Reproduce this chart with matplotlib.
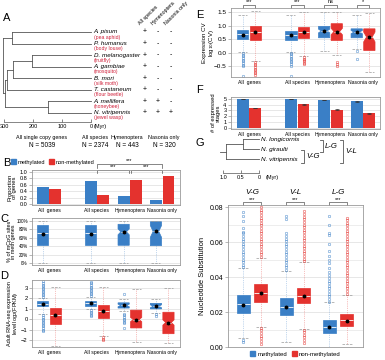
import matplotlib
matplotlib.use('Agg')
import matplotlib.pyplot as plt
from matplotlib.patches import Patch

plt.rcParams['font.family'] = ['Liberation Sans', 'DejaVu Sans']

BLUE = '#3a7fc6'
RED = '#e4322e'
GREY = '#9a9a9a'
TREE = '#555555'
W, H = 385, 360

# ---------------- data ----------------
groups = ['All  genes', 'All species', 'Hymenoptera', 'Nasonia only']
group_pos = [0, 1.45, 2.45, 3.43]

# panel A
species = ['A. pisum', 'P. humanus', 'D. melanogaster', 'A. gambiae',
           'B. mori', 'T. castaneum', 'A. mellifera', 'N. vitripennis']
common = ['(pea aphid)', '(body louse)', '(fruitfly)', '(mosquito)',
          '(silk moth)', '(flour beetle)', '(honeybee)', '(jewel wasp)']
subsets = ['All species', 'Hymenoptera', 'Nasonia only']
membership = [['+', '-', '-'], ['+', '-', '-'], ['+', '-', '-'], ['+', '-', '-'],
              ['+', '-', '-'], ['+', '-', '-'], ['+', '+', '-'], ['+', '+', '+']]
# node ages (Myr); leaves are row numbers
tree_ages = {'ROOT': 303, 'PH': 272, 'HOLO': 297, 'DABT': 290, 'DAB': 269, 'DA': 203, 'HYM': 148}
tree_children = {'ROOT': ['PH', 'HOLO'], 'PH': [0, 1], 'HOLO': ['DABT', 'HYM'],
                 'DABT': ['DAB', 5], 'DAB': ['DA', 4], 'DA': [2, 3], 'HYM': [6, 7]}
set_names = ['All single copy genes', 'All species', 'Hymenoptera', 'Nasonia only']
set_n = ['N = 5039', 'N = 2374', 'N = 443', 'N = 320']

# panel B: proportion of genes
b_meth = [0.55, 0.72, 0.27, 0.14]
b_non = [0.47, 0.30, 0.74, 0.87]

# box rows: [whislo, q1, median, q3, whishi, mean, notch half-width (0 = no notch)]
c_meth = [[0, 42, 71, 90, 100, 70, 0],
          [0, 42, 71, 90, 100, 70, 0],
          [0, 42, 74, 92, 100, 73, 7],
          [0, 41, 75, 98, 100, 76, 14]]

d_meth = [[0.45, 1.20, 1.45, 1.73, 2.00, 1.45, 0],
          [1.00, 1.27, 1.50, 1.75, 2.10, 1.50, 0],
          [0.80, 1.05, 1.30, 1.55, 1.90, 1.30, 0.12],
          [0.60, 0.97, 1.22, 1.50, 1.90, 1.22, 0.14]]
d_non = [[-2.60, -0.50, 0.40, 1.10, 3.10, 0.37, 0],
         [-1.60, 0.12, 0.78, 1.33, 3.10, 0.80, 0],
         [-2.20, -0.85, -0.05, 0.85, 2.90, -0.10, 0.2],
         [-2.30, -1.40, -0.33, 0.65, 2.95, -0.35, 0.25]]
d_meth_out = [[2.1, 2.25, 2.4, 2.55, 2.7, 2.85, 3.0, 3.15, 3.3, 3.45, 3.6,
               0.35, 0.2, 0.05, -0.1, -0.25, -0.4, -0.55, -0.7, -0.85, -1.0, -1.15],
              [2.2, 2.35, 2.5, 2.65, 2.8, 2.95, 3.1, 3.25, 3.4, 3.55, 0.85, 0.7, 0.55, 0.4, 0.3],
              [2.35, 0.5, 0.35, 0.2, 0.05, -0.1, -0.25, -0.4, -0.9],
              [0.45, 0.3]]
d_non_out = [[], [-1.75, -1.9, -2.0], [], []]

e_meth = [[0.03, 0.50, 0.68, 0.83, 1.40, 0.67, 0],
          [0.03, 0.47, 0.64, 0.80, 1.40, 0.64, 0],
          [0.05, 0.55, 0.80, 0.97, 1.50, 0.80, 0.07],
          [0.12, 0.55, 0.76, 0.88, 1.40, 0.75, 0.06]]
e_non = [[-0.30, 0.45, 0.76, 1.00, 1.55, 0.75, 0],
         [-0.12, 0.55, 0.76, 0.94, 1.50, 0.75, 0],
         [-0.10, 0.45, 0.78, 1.07, 1.50, 0.76, 0.12],
         [-0.70, 0.08, 0.58, 0.88, 1.45, 0.58, 0.18]]
e_meth_out = [[-0.02, -0.08, -0.14, -0.2, -0.26, -0.32, -0.38, -0.44, -0.5, -0.85],
              [0.0, -0.06, -0.12, -0.18, -0.24, -0.3, -0.36, -0.42, -0.48, -0.85],
              [],
              [0.05, -0.22]]
e_non_out = [[-0.35, -0.41, -0.47, -0.53, -0.59, -0.65, -0.71, -0.77, -0.83],
             [-0.17, -0.22, -0.27, -0.32, -0.37, -0.42],
             [-0.35, -0.42, -0.5],
             []]
e_sig = ['***', '***', 'ns', '*']

# panel F
f_meth = [4.95, 4.98, 4.80, 4.60]
f_meth_err = [0.03, 0.02, 0.05, 0.08]
f_non = [3.45, 4.05, 3.15, 2.50]
f_non_err = [0.03, 0.04, 0.08, 0.10]

# panel G
ng_species = ['N. longicornis', 'N. giraulti', 'N. vitripennis']
ng_ages = {'ROOT': 0.92, 'LG': 0.44}
ng_children = {'ROOT': ['LG', 2], 'LG': [0, 1]}
ng_stub = 1.08
pairs = ['V-G', 'V-L', 'L-G']
g_meth = [[0.0052, 0.0192, 0.0245, 0.0296, 0.0450, 0.0240, 0],
          [0.0030, 0.0182, 0.0230, 0.0283, 0.0434, 0.0230, 0],
          [0.0000, 0.0080, 0.0115, 0.0153, 0.0255, 0.0115, 0]]
g_non = [[0.0115, 0.0258, 0.0310, 0.0358, 0.0507, 0.0310, 0],
         [0.0105, 0.0249, 0.0290, 0.0340, 0.0488, 0.0290, 0],
         [0.0015, 0.0118, 0.0153, 0.0186, 0.0300, 0.0150, 0]]
g_meth_out = [[0.0455, 0.047, 0.0485, 0.05, 0.0515, 0.053, 0.0545, 0.056, 0.0575, 0.059,
               0.0605, 0.062, 0.0635, 0.065, 0.066, 0.068, 0.072, 0.075, 0.077, 0.004, 0.003],
              [0.044, 0.0455, 0.047, 0.0485, 0.05, 0.0515, 0.053, 0.0545, 0.056, 0.0575,
               0.059, 0.0605, 0.062, 0.0635, 0.065, 0.073, 0.075],
              [0.026, 0.0275, 0.029, 0.0305, 0.032, 0.0335, 0.035, 0.0365, 0.038, 0.0395,
               0.041, 0.043, 0.045, 0.048, 0.05, 0.052, 0.055, 0.059, 0.064, 0.065, 0.07, 0.075]]
g_non_out = [[0.0515, 0.053, 0.0545, 0.056, 0.0575, 0.059, 0.0605, 0.062, 0.0635, 0.065, 0.0665,
              0.068, 0.0695, 0.071, 0.0725, 0.074, 0.0755, 0.077, 0.0785, 0.08,
              0.011, 0.0095, 0.008, 0.0065, 0.005, 0.0035, 0.002],
             [0.049, 0.0505, 0.052, 0.0535, 0.055, 0.0565, 0.058, 0.0595, 0.061, 0.0625, 0.064,
              0.0655, 0.067, 0.0685, 0.07, 0.0715, 0.073, 0.0745, 0.076, 0.078,
              0.01, 0.0085, 0.007, 0.0055, 0.004, 0.0025],
             [0.0305, 0.032, 0.0335, 0.035, 0.0365, 0.038, 0.0395, 0.041, 0.0425, 0.044, 0.0455,
              0.047, 0.0485, 0.05, 0.0515, 0.053, 0.0545, 0.056, 0.0575, 0.059, 0.0605, 0.062,
              0.0635, 0.065, 0.0665, 0.068, 0.0695, 0.071, 0.0725, 0.074]]


# ---------------- helpers ----------------
def rect(l, t, r, b):
    return [l / W, 1 - b / H, (r - l) / W, (b - t) / H]


def style(ax, ylim, yticks, ylabels=None, xlim=None, xlabels=True):
    for s in ax.spines.values():
        s.set_color(GREY)
        s.set_linewidth(0.6)
    ax.tick_params(labelsize=4.0, length=2, width=0.5, color=GREY, pad=1.2)
    ax.set_ylim(*ylim)
    ax.set_yticks(yticks)
    if ylabels is not None:
        ax.set_yticklabels(ylabels)
    if xlim is not None:
        ax.set_xlim(*xlim)
    ax.yaxis.grid(True, color='#dddddd', lw=0.5)
    ax.set_axisbelow(True)
    if xlabels:
        ax.set_xticks(group_pos)
        ax.set_xticklabels(groups, fontsize=3.7)
        ax.tick_params(axis='x', length=0, pad=2)
    else:
        ax.set_xticks([])


def ylab(ax, text, right_px, fs=4.2):
    # right edge of the rotated label sits right_px pixels left of the frame
    ax.set_ylabel(text, fontsize=fs, linespacing=0.95)
    ax.yaxis.set_label_coords(-right_px / (ax.get_position().width * W), 0.5)


def boxes(ax, rows, fliers, xs, color, width=0.34):
    for r, f, x in zip(rows, fliers, xs):
        lo, q1, med, q3, hi, mean, ci = r
        st = dict(whislo=lo, q1=q1, med=med, q3=q3, whishi=hi, mean=mean,
                  cilo=med - ci, cihi=med + ci, fliers=f)
        ax.bxp([st], positions=[x], widths=width, patch_artist=True, shownotches=ci > 0,
               showmeans=True, capwidths=width * 0.8, manage_ticks=False,
               boxprops=dict(facecolor=color, edgecolor=color, lw=0.5),
               medianprops=dict(color='white', lw=0.6),
               meanprops=dict(marker='o', markerfacecolor='black', markeredgecolor='black',
                              markersize=1.8),
               whiskerprops=dict(color=color, lw=0.5, ls=':', alpha=0.6),
               capprops=dict(color=GREY, lw=0.5, ls='--'),
               flierprops=dict(marker='o', markerfacecolor='none', markeredgecolor=color,
                               markersize=1.8, markeredgewidth=0.4, alpha=0.8))


def bracket(ax, x1, x2, y, leg, label, ty, fs=4.0):
    tr = ax.get_xaxis_transform()
    ax.plot([x1, x1, x2, x2], [y - leg, y, y, y - leg], color='#555555', lw=0.5,
            transform=tr, clip_on=False)
    ax.text((x1 + x2) / 2, ty, label, transform=tr, ha='center', va='center', fontsize=fs)


def draw_clade(ax, node, ages, children):
    if isinstance(node, int):
        return node
    rows = [draw_clade(ax, c, ages, children) for c in children[node]]
    age = ages[node]
    for c, r in zip(children[node], rows):
        ca = 0 if isinstance(c, int) else ages[c]
        ax.plot([age, ca], [r, r], color=TREE, lw=0.6)
    ax.plot([age, age], [min(rows), max(rows)], color=TREE, lw=0.6)
    return sum(rows) / len(rows)


def tree_axis(ax, ticks, labels):
    for k in ['top', 'left', 'right']:
        ax.spines[k].set_visible(False)
    ax.spines['bottom'].set_bounds(ticks[0], ticks[-1])
    ax.spines['bottom'].set_linewidth(0.5)
    ax.spines['bottom'].set_color(TREE)
    ax.set_yticks([])
    ax.set_xticks(ticks)
    ax.set_xticklabels(labels)
    ax.tick_params(axis='x', direction='in', length=2, width=0.5, color=TREE, labelsize=4.0, pad=1.5)
    ax.patch.set_visible(False)


fig = plt.figure(figsize=(3.85, 3.6), dpi=100)
ov = fig.add_axes([0, 0, 1, 1])
ov.set_xlim(0, W)
ov.set_ylim(H, 0)
ov.axis('off')

blue_x = [p - 0.19 for p in group_pos]
red_x = [p + 0.19 for p in group_pos]

# ---------------- A ----------------
ta = fig.add_axes(rect(0, 26, 93, 122))
draw_clade(ta, 'ROOT', tree_ages, tree_children)
ta.set_xlim(313.8, -6.9)
ta.set_ylim(7.78, -0.52)
tree_axis(ta, [300, 200, 100, 0], ['300', '200', '100', '0'])
ov.text(94, 126.5, '(Myr)', fontsize=4.0, va='center')

col_x = [145, 158, 171]
for i, (sp, cn) in enumerate(zip(species, common)):
    y = 32 + 11.57 * i
    ov.text(93.5, y, sp, fontsize=4.5, style='italic', va='center')
    ov.text(93.5, y + 5.0, cn, fontsize=3.7, color='#d0203a', va='center')
    for j, m in enumerate(membership[i]):
        ov.text(col_x[j], y, m, fontsize=5, ha='center', va='center')
for j, s in enumerate(subsets):
    ov.text(col_x[j] - 4, 26, s, fontsize=3.8, rotation=45, rotation_mode='anchor',
            ha='left', va='bottom')
for x, s, n in zip([42, 95, 127, 164], set_names, set_n):
    ov.text(x, 137, s, fontsize=3.9, ha='center', va='center')
    ov.text(x, 145.5, n, fontsize=4.7, ha='center', va='center')

# ---------------- B ----------------
ax_b = fig.add_axes(rect(32, 170, 180, 205))
ax_b.bar(blue_x, b_meth, width=0.36, color=BLUE)
ax_b.bar(red_x, b_non, width=0.36, color=RED)
style(ax_b, (-0.02, 1.06), [0, 0.2, 0.4, 0.6, 0.8, 1.0],
      ['0.0', '0.2', '0.4', '0.6', '0.8', '1.0'], xlim=(-0.52, 3.97))
ylab(ax_b, 'Proportion\nof genes', 15)
bracket(ax_b, group_pos[1], group_pos[3], 1.171, 0.1, '***', 1.27)
bracket(ax_b, group_pos[1], group_pos[2] - 0.03, 1.0, 0.086, '***', 1.086)
bracket(ax_b, group_pos[2] + 0.03, group_pos[3], 1.0, 0.086, '***', 1.086)
fig.legend(handles=[Patch(color=BLUE, label='methylated'), Patch(color=RED, label='non-methylated')],
           loc='center left', bbox_to_anchor=(11 / W, 1 - 162 / H), ncol=2, frameon=False,
           fontsize=4.1, handlelength=0.9, handleheight=0.9, handletextpad=0.3,
           columnspacing=0.6, borderpad=0, borderaxespad=0)

# ---------------- C ----------------
ax_c = fig.add_axes(rect(32, 218, 180, 265))
boxes(ax_c, c_meth, [[], [], [], []], blue_x, BLUE)
style(ax_c, (-5, 107), [0, 20, 40, 60, 80, 100],
      ['0%', '20%', '40%', '60%', '80%', '100%'], xlim=(-0.52, 3.97))
ax_c.tick_params(axis='y', labelsize=3.3, pad=1.0)
ylab(ax_c, '% of mCpG sites\nin meth genes', 15.5, fs=4.0)

# ---------------- D ----------------
ax_d = fig.add_axes(rect(32, 280, 180, 347))
boxes(ax_d, d_meth, d_meth_out, blue_x, BLUE)
boxes(ax_d, d_non, d_non_out, red_x, RED)
style(ax_d, (-2.67, 3.73), [-2, -1, 0, 1, 2, 3], ['\u22122', '\u22121', '0', '1', '2', '3'],
      xlim=(-0.52, 3.97))
ax_d.tick_params(axis='y', labelsize=4.2)
ylab(ax_d, 'Adult RNA-seq expression\nlevel log$_2$(FPKM)', 11.5, fs=4.0)

# ---------------- E ----------------
ax_e = fig.add_axes(rect(231, 8, 380, 77))
boxes(ax_e, e_meth, e_meth_out, blue_x, BLUE)
boxes(ax_e, e_non, e_non_out, red_x, RED)
style(ax_e, (-0.9, 1.65), [-0.5, 0, 0.5, 1.0, 1.5],
      ['\u22120.5', '0.0', '0.5', '1.0', '1.5'], xlim=(-0.54, 3.94))
ax_e.tick_params(axis='y', labelsize=4.6)
ylab(ax_e, 'Expression CV\nlog$_{10}$(CV)', 15, fs=4.4)
for b, r, s in zip(blue_x, red_x, e_sig):
    bracket(ax_e, b, r, 1.043, 0.043, s, 1.095)

# ---------------- F ----------------
ax_f = fig.add_axes(rect(231, 97, 380, 129))
ek = dict(ecolor='#333333', lw=0.5, capsize=1.2, capthick=0.5)
ax_f.bar(blue_x, f_meth, width=0.36, color=BLUE, yerr=f_meth_err, error_kw=ek)
ax_f.bar(red_x, f_non, width=0.36, color=RED, yerr=f_non_err, error_kw=ek)
style(ax_f, (-0.2, 5.3), [0, 1, 2, 3, 4, 5], xlim=(-0.54, 3.94))
ylab(ax_f, '# of expressed\nstages', 10)

# ---------------- G tree ----------------
tg = fig.add_axes(rect(214, 133, 262, 173))
root_row = draw_clade(tg, 'ROOT', ng_ages, ng_children)
tg.plot([ng_stub, ng_ages['ROOT']], [root_row, root_row], color=TREE, lw=0.6)
tg.set_xlim(1.25, -0.083)
tg.set_ylim(3.4, -0.6)
tree_axis(tg, [1.0, 0.5, 0], ['1.0', '0.5', '0'])
ov.text(266, 178, '(Myr)', fontsize=4.0, va='center')
for i, sp in enumerate(ng_species):
    ov.text(261, 139 + 10 * i, sp, fontsize=4.6, style='italic', va='center')
for x, y1, y2, lab in [(323, 140, 152, 'L-G'), (304, 150, 163, 'V-G'), (343, 140, 163, 'V-L')]:
    ov.plot([x - 3, x, x, x - 3], [y1, y1, y2, y2], color=TREE, lw=0.6)
    ov.text(x + 2, (y1 + y2) / 2, lab, fontsize=5.6, style='italic', va='center')

# ---------------- G boxes ----------------
ax_g = fig.add_axes(rect(228, 205, 363, 347))
gx = [0, 1, 2]
boxes(ax_g, g_meth, g_meth_out, [x - 0.2 for x in gx], BLUE, width=0.3)
boxes(ax_g, g_non, g_non_out, [x + 0.2 for x in gx], RED, width=0.3)
style(ax_g, (0, 0.0812), [0, 0.02, 0.04, 0.06, 0.08],
      ['0.00', '0.02', '0.04', '0.06', '0.08'], xlim=(-0.56, 2.58), xlabels=False)
ax_g.set_yticks([0.01, 0.03, 0.05, 0.07], minor=True)
ax_g.yaxis.grid(True, which='minor', color='#e6e6e6', lw=0.5)
ax_g.tick_params(axis='y', labelsize=5.0)
ax_g.tick_params(axis='y', which='minor', length=0)
ax_g.set_ylabel('Nucleotide Substitution', fontsize=5.4, labelpad=3)
for x, lab in zip(gx, pairs):
    bracket(ax_g, x - 0.2, x + 0.2, 1.021, 0.021, '***', 1.04)
    ax_g.text(x, 1.085, lab, transform=ax_g.get_xaxis_transform(), ha='center', va='center',
              fontsize=5.8, style='italic')
fig.legend(handles=[Patch(color=BLUE, label='methylated'), Patch(color=RED, label='non-methylated')],
           loc='center left', bbox_to_anchor=(250 / W, 1 - 354 / H), ncol=2, frameon=False,
           fontsize=4.3, handlelength=0.9, handleheight=0.9, handletextpad=0.3,
           columnspacing=0.8, borderpad=0, borderaxespad=0)

# panel letters
for x, y, lab in [(3, 18, 'A'), (3, 163, 'B'), (0.5, 219, 'C'), (0.5, 276, 'D'),
                  (196, 15, 'E'), (196, 90, 'F'), (196, 143, 'G')]:
    ov.text(x, y, lab, fontsize=8, va='center')

fig.savefig('out.png', dpi=100)
